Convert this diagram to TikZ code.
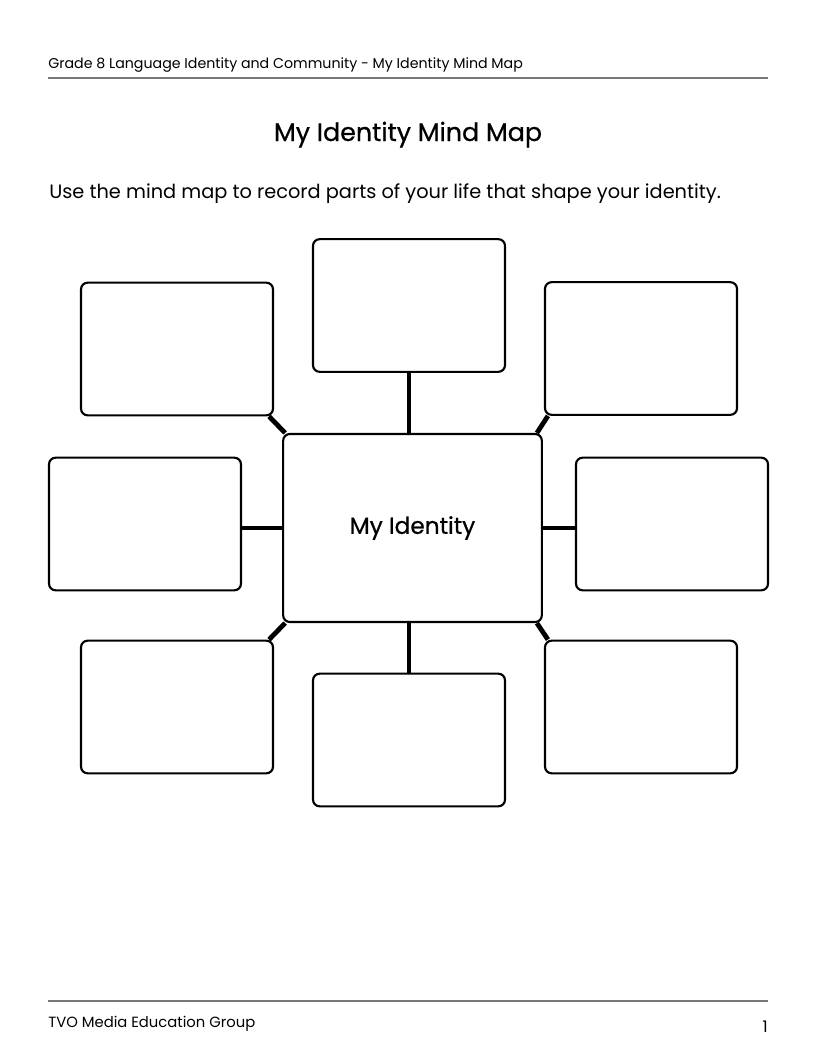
\documentclass[tikz,border=0pt]{standalone}
\usepackage{fontspec}
\setmainfont{Poppins}
\newfontfamily\medfont[FakeBold=0.7]{Poppins}
\usepackage{tikz}
\usetikzlibrary{positioning, calc}
\definecolor{rulegray}{HTML}{777777}

\begin{document}
\begin{tikzpicture}[
    x=0.75pt, y=-0.75pt,
    card/.style={draw=black, rounded corners=5pt, fill=white, line width=1.6pt,
                 minimum width=144pt, minimum height=99.5pt, inner sep=0pt},
    hub/.style={card, minimum width=194pt, minimum height=141pt, font=\medfont\fontsize{17.4}{20}\selectfont},
    link/.style={draw=black, line width=3.6pt}
]
    \useasboundingbox[fill=white] (0,0) rectangle (816,1056);

    % header and footer
    \node[anchor=base west, inner sep=0pt, font=\fontsize{10.65}{12}\selectfont] (head) at (48,69)
        {Grade 8 Language Identity and Community - My Identity Mind Map};
    \draw[rulegray, line width=0.8pt] (48,78) -- (768,78);
    \node[anchor=base, inner sep=0pt, font=\medfont\fontsize{19}{22}\selectfont] (title) at (408,141) {My Identity Mind Map};
    \node[anchor=base west, inner sep=0pt, font=\fontsize{14.5}{17}\selectfont] (intro) at (49,198)
        {Use the mind map to record parts of your life that shape your identity.};
    \draw[rulegray, line width=0.8pt] (48,1001) -- (768,1001);
    \node[anchor=base west, inner sep=0pt, font=\fontsize{11.1}{13}\selectfont] (foot) at (48,1027) {TVO Media Education Group};
    \node[anchor=base east, inner sep=0pt, font=\fontsize{12}{14}\selectfont] (page) at (768,1032) {1};

    % connectors first, boxes on top
    \coordinate (mc) at (412.5,528);
    \coordinate (tc) at (409,305.5);
    \coordinate (bc) at (409,740);
    \path[link] (409,372) -- (409,434);
    \path[link] (409,622) -- (409,674);

    % mind map
    \node[hub] (me) at (mc) {My Identity};
    \node[card] (top) at (tc) {};
    \node[card] (topleft) at (177,349) {};
    \node[card] (topright) at (641,348.5) {};
    \node[card] (left) at (145,524) {};
    \node[card] (right) at (672,524) {};
    \node[card] (botleft) at (177,707) {};
    \node[card] (bot) at (bc) {};
    \node[card] (botright) at (641,707) {};

    \draw[link] (top.south) -- (top.south |- me.north);
    \draw[link] (bot.north) -- (bot.north |- me.south);
    \draw[link] (left.east |- me.center) -- (me.west);
    \draw[link] (right.west |- me.center) -- (me.east);
    \draw[link] ($(topleft.south east)+(-5,0)$) -- ($(me.north west)+(3,0)$);
    \draw[link] ($(topright.south west)+(4,0)$) -- ($(me.north east)+(-6,0)$);
    \draw[link] ($(botleft.north east)+(-5,0)$) -- ($(me.south west)+(3,0)$);
    \draw[link] ($(botright.north west)+(4,0)$) -- ($(me.south east)+(-6,0)$);
\end{tikzpicture}
\end{document}
